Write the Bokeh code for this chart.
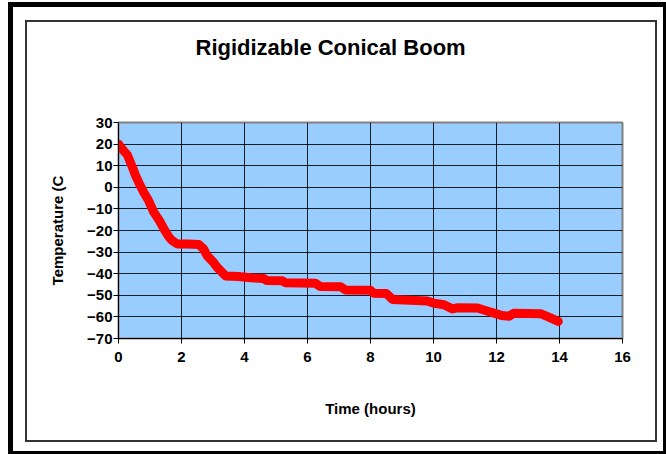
from bokeh.plotting import figure
from bokeh.models import SingleIntervalTicker, Range1d, Title
from bokeh.embed import file_html
from bokeh.resources import INLINE

# Data
time_hours = [0, 0.1, 0.28, 0.45, 0.54, 0.65, 0.8, 0.95, 1.12, 1.3, 1.44, 1.6, 1.7, 1.86,
              2.2, 2.55, 2.7, 2.81, 3.0, 3.13, 3.3, 3.4, 3.8, 4.2, 4.6, 4.7, 5.2, 5.3,
              6.25, 6.4, 7.05, 7.2, 8.0, 8.1, 8.5, 8.7, 9.8, 10.0, 10.33, 10.6, 10.75,
              11.4, 11.7, 12.18, 12.4, 12.55, 13.4, 13.66, 13.96]
temperature_c = [20, 18, 15, 9, 5.5, 2, -2.3, -6, -11.5, -15.5, -19.2, -23, -24.6, -26.2,
                 -26.2, -26.5, -28.5, -31.6, -34.5, -37, -39.5, -41.1, -41.3, -41.9, -42.2,
                 -43.1, -43.3, -44.2, -44.4, -45.9, -46, -47.5, -47.7, -49, -49.2, -51.9,
                 -52.6, -53.6, -54.4, -56.3, -55.8, -55.9, -57.3, -59.4, -59.7, -58.3,
                 -58.5, -60.1, -62.1]

title_text = "Rigidizable Conical Boom"
x_label = "Time (hours)"
y_label = "Temperature (C"

FONT = "Liberation Sans"

# Chart frames drawn as CSS background layers behind a transparent canvas
frame_layers = [
    # outer black frame
    "linear-gradient(#000,#000) 8px 2px / 5px 452px no-repeat",
    "linear-gradient(#000,#000) 8px 2px / 658px 5px no-repeat",
    "linear-gradient(#000,#000) 663px 2px / 3px 452px no-repeat",
    "linear-gradient(#000,#000) 8px 451px / 658px 3px no-repeat",
    # inner thin frame
    "linear-gradient(#333,#333) 25px 20px / 2px 422px no-repeat",
    "linear-gradient(#333,#333) 25px 20px / 632px 2px no-repeat",
    "linear-gradient(#333,#333) 655px 20px / 2px 422px no-repeat",
    "linear-gradient(#333,#333) 25px 440px / 632px 2px no-repeat",
]

p = figure(width=666, height=454, output_backend="svg", toolbar_location=None,
           x_range=Range1d(0, 16), y_range=Range1d(-70, 30), title=None,
           styles={"background": ", ".join(frame_layers) + ", white"})
p.min_border_left = 118
p.min_border_right = 44
p.min_border_top = 122
p.min_border_bottom = 116

p.background_fill_color = "#99CCFF"
p.border_fill_alpha = 0
p.outline_line_color = "#808080"
p.outline_line_width = 2

p.line(time_hours, temperature_c, line_width=9, line_color="#FF0000",
       line_cap="round", line_join="round")

p.xaxis.ticker = SingleIntervalTicker(interval=2)
p.yaxis.ticker = SingleIntervalTicker(interval=10)
p.xgrid.ticker = SingleIntervalTicker(interval=2)
p.ygrid.ticker = SingleIntervalTicker(interval=10)
for g in (p.xgrid, p.ygrid):
    g.grid_line_color = "black"
    g.grid_line_width = 1
    g.grid_line_alpha = 0.85

for ax in (p.xaxis, p.yaxis):
    ax.axis_line_color = "black"
    ax.axis_line_width = 1
    ax.major_tick_line_color = "black"
    ax.major_tick_out = 5
    ax.major_tick_in = 0
    ax.minor_tick_line_color = None
    ax.major_label_text_font = FONT
    ax.major_label_text_font_style = "bold"
    ax.major_label_text_font_size = "15px"
    ax.major_label_text_color = "black"
    ax.axis_label_text_font = FONT
    ax.axis_label_text_font_style = "bold"
    ax.axis_label_text_font_size = "15px"
    ax.axis_label_text_color = "black"

p.xaxis.axis_label = x_label
p.yaxis.axis_label = y_label
p.xaxis.major_label_standoff = 8
p.yaxis.major_label_standoff = 1
p.xaxis.axis_label_standoff = 35
p.yaxis.axis_label_standoff = 18

# empty spacer between the plot frame and the title
p.add_layout(Title(text=" ", standoff=60, text_font_size="1px"), "above")
p.add_layout(Title(text=title_text, align="left", offset=77, standoff=0,
                   text_font=FONT, text_font_style="bold", text_font_size="22px",
                   text_color="black"), "above")

open("out.html", "w").write(file_html(p, INLINE))
